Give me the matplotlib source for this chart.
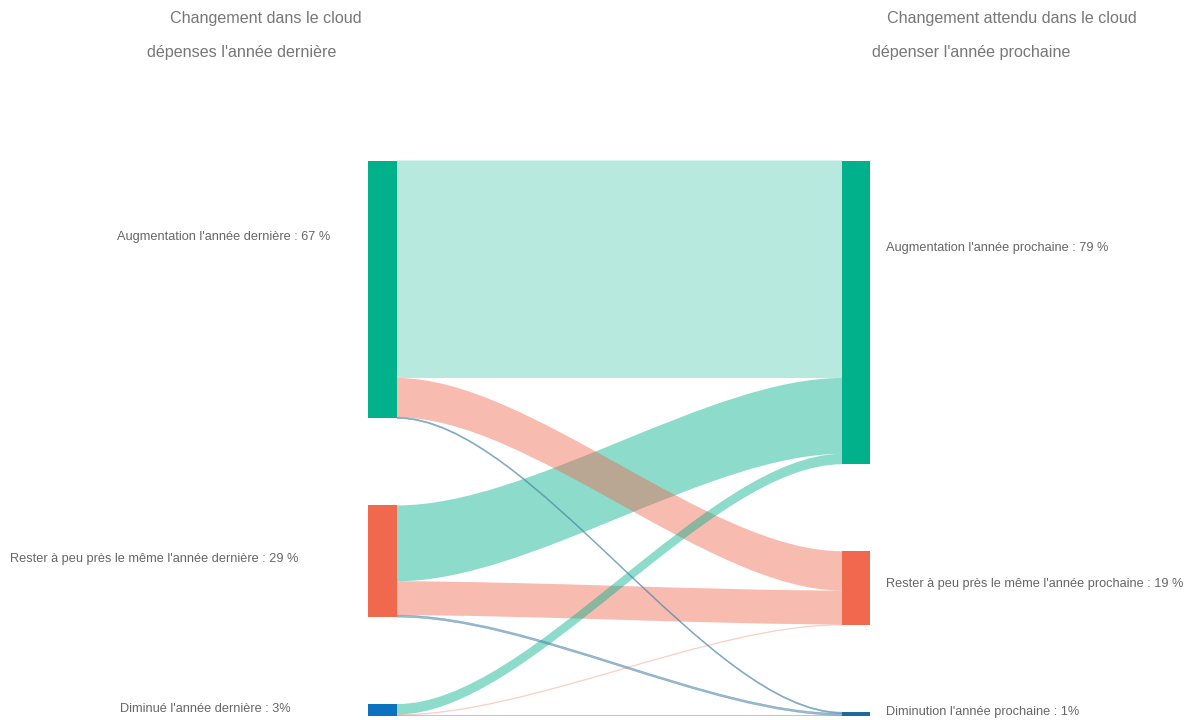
import numpy as np
import matplotlib.pyplot as plt
from matplotlib.path import Path
from matplotlib.patches import PathPatch, Rectangle

plt.rcParams['font.family'] = ['Liberation Sans', 'DejaVu Sans']

# nodes and labels
src_labels = ["Augmentation l'année dernière : 67 %",
              "Rester à peu près le même l'année dernière : 29 %",
              "Diminué l'année dernière : 3%"]
tgt_labels = ["Augmentation l'année prochaine : 79 %",
              "Rester à peu près le même l'année prochaine : 19 %",
              "Diminution l'année prochaine : 1%"]

# flows[i][j] : share (%) going from source i to target j
flows = np.array([[56.5, 10.2, 0.3],
                  [19.7, 8.8, 0.5],
                  [2.7, 0.2, 0.1]])

node_colors_src = ['#00b18c', '#f0694f', '#0b72bd']
node_colors_tgt = ['#00b18c', '#f0694f', '#20689b']
link_colors = ['#00b18c', '#f0694f', '#4f88ad']
link_alpha = [[0.28, 0.45, 0.6], [0.45, 0.45, 0.55], [0.45, 0.2, 0.35]]

# layout (pixels)
W, H = 1192, 720
top = 160.5
scale = 3.85
gap = 87
xl0, xl1 = 368, 397
xr0, xr1 = 842, 870
curv = 0.3

fig = plt.figure(figsize=(W / 100, H / 100), dpi=100)
ax = fig.add_axes([0, 0, 1, 1])
ax.set_xlim(0, W)
ax.set_ylim(H, 0)
ax.axis('off')

src_tot = flows.sum(axis=1)
tgt_tot = flows.sum(axis=0)

def node_tops(tot):
    ys = []
    y = top
    for t in tot:
        ys.append(y)
        y += t * scale + gap
    return ys

src_y = node_tops(src_tot)
tgt_y = node_tops(tgt_tot)

# links, biggest drawn first
ca = xl1 + (xr0 - xl1) * curv
cb = xr0 - (xr0 - xl1) * curv
pairs = sorted([(i, j) for i in range(3) for j in range(3)],
               key=lambda p: -flows[p])
for i, j in pairs:
    h = flows[i, j] * scale
    y0 = src_y[i] + sum(flows[i, :j]) * scale
    y1 = tgt_y[j] + sum(flows[:i, j]) * scale
    verts = [(xl1, y0), (ca, y0), (cb, y1), (xr0, y1),
             (xr0, y1 + h), (cb, y1 + h), (ca, y0 + h), (xl1, y0 + h),
             (xl1, y0)]
    codes = [Path.MOVETO, Path.CURVE4, Path.CURVE4, Path.CURVE4,
             Path.LINETO, Path.CURVE4, Path.CURVE4, Path.CURVE4,
             Path.CLOSEPOLY]
    thin = h < 2.5
    ax.add_patch(PathPatch(Path(verts, codes), facecolor=link_colors[j],
                           alpha=link_alpha[i][j], lw=0.5 if thin else 0,
                           edgecolor=link_colors[j]))

# nodes
for i in range(3):
    ax.add_patch(Rectangle((xl0, src_y[i]), xl1 - xl0, src_tot[i] * scale,
                           color=node_colors_src[i], lw=0))
    ax.add_patch(Rectangle((xr0, tgt_y[i]), xr1 - xr0, tgt_tot[i] * scale,
                           color=node_colors_tgt[i], lw=0))

txt = '#666666'
src_lab_x = [117, 10, 120]
src_lab_y = [237, 559, 709]
tgt_lab_y = [248, 584, 712]
for i in range(3):
    ax.text(src_lab_x[i], src_lab_y[i], src_labels[i], ha='left', va='center',
            fontsize=9.2, color=txt)
    ax.text(886, tgt_lab_y[i], tgt_labels[i], ha='left', va='center',
            fontsize=9.2, color=txt)

tcol = '#777777'
ax.text(266, 18, "Changement dans le cloud", ha='center', va='center', fontsize=11.6, color=tcol)
ax.text(242, 53, "dépenses l'année dernière", ha='center', va='center', fontsize=11.6, color=tcol)
ax.text(1012, 18, "Changement attendu dans le cloud", ha='center', va='center', fontsize=11.6, color=tcol)
ax.text(971, 53, "dépenser l'année prochaine", ha='center', va='center', fontsize=11.6, color=tcol)

fig.savefig('out.png', dpi=100)
